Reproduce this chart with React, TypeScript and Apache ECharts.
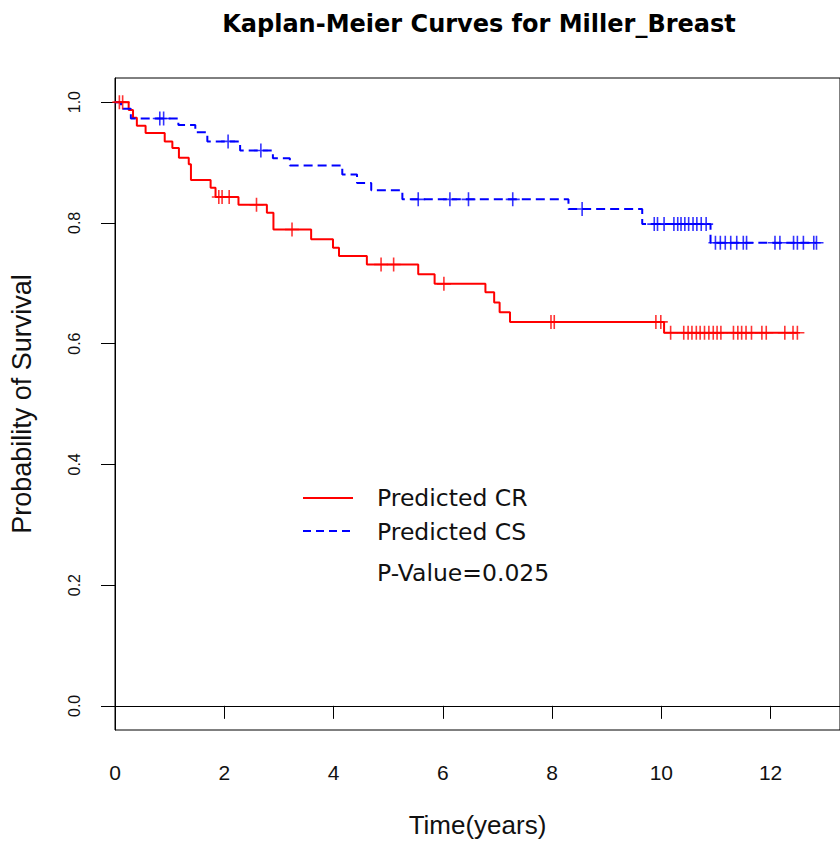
import React, { useEffect, useRef } from 'react';
import * as echarts from 'echarts';

// ---- data ----
const chartTitle = 'Kaplan-Meier Curves for Miller_Breast';
const xTitle = 'Time(years)';
const yTitle = 'Probability of Survival';
const xTicks = [0, 2, 4, 6, 8, 10, 12];
const yTicks = [0, 0.2, 0.4, 0.6, 0.8, 1.0];
const legendLabels = ['Predicted CR', 'Predicted CS'];
const pValueText = 'P-Value=0.025';

// Predicted CR (red, solid): event times and survival after each step
const redTime = [0, 0.25, 0.33, 0.40, 0.56, 0.91, 1.05, 1.17, 1.35, 1.39, 1.75, 1.84, 2.26, 2.78, 2.90, 3.59, 3.99, 4.10, 4.61, 5.55, 5.85, 6.78, 6.94, 7.04, 7.23, 10.05, 12.49];
const redSurv = [1.0, 0.987, 0.974, 0.961, 0.949, 0.935, 0.924, 0.908, 0.897, 0.871, 0.858, 0.843, 0.830, 0.817, 0.789, 0.773, 0.759, 0.745, 0.731, 0.715, 0.699, 0.685, 0.668, 0.652, 0.636, 0.618, 0.618];
const redCensor = [0.08, 0.14, 1.90, 1.96, 2.09, 2.59, 3.24, 4.87, 5.10, 6.02, 7.98, 8.04, 9.90, 9.99, 10.17, 10.41, 10.49, 10.56, 10.64, 10.71, 10.79, 10.87, 10.95, 11.02, 11.09, 11.32, 11.40, 11.47, 11.55, 11.65, 11.84, 11.92, 12.26, 12.41, 12.49];

// Predicted CS (blue, dashed)
const blueTime = [0, 0.11, 0.29, 1.16, 1.47, 1.69, 2.29, 2.89, 3.20, 4.16, 4.43, 4.69, 5.26, 8.30, 9.65, 10.90, 12.84];
const blueSurv = [1.0, 0.989, 0.973, 0.962, 0.950, 0.935, 0.920, 0.907, 0.895, 0.880, 0.866, 0.854, 0.839, 0.823, 0.798, 0.767, 0.767];
const blueCensor = [0.82, 0.89, 2.07, 2.67, 5.55, 6.13, 6.47, 7.28, 8.55, 9.87, 9.93, 10.05, 10.23, 10.30, 10.36, 10.43, 10.50, 10.58, 10.65, 10.73, 10.82, 10.99, 11.08, 11.17, 11.27, 11.38, 11.50, 11.56, 12.08, 12.17, 12.42, 12.49, 12.60, 12.79, 12.84];

const RED = '#FF0000';
const BLUE = '#0000FF';

function survAt(times: number[], surv: number[], t: number): number {
  let s = surv[0];
  for (let i = 0; i < times.length; i++) {
    if (times[i] <= t) s = surv[i];
  }
  return s;
}

const plus = 'path://M7,0 L7,14 M0,7 L14,7';

export default function App() {
  const ref = useRef<HTMLDivElement>(null);
  useEffect(() => {
    const chart = echarts.init(ref.current!, null, { renderer: 'svg' });
    const textCol = '#111';
    const sans = 'Liberation Sans, Arial, sans-serif';
    chart.setOption({
      animation: false,
      backgroundColor: '#ffffff',
      title: {
        text: chartTitle,
        left: 479,
        top: 12,
        padding: 0,
        textAlign: 'center',
        textStyle: { fontFamily: 'DejaVu Sans', fontWeight: 'bold', fontSize: 24, color: '#000' },
      },
      grid: {
        left: 114, top: 78, right: -4, bottom: 111,
        show: true, borderColor: '#000', borderWidth: 1, backgroundColor: 'transparent',
      },
      xAxis: {
        type: 'value', min: 0, max: 13.27,
        name: xTitle, nameLocation: 'middle', nameGap: 82,
        nameTextStyle: { fontFamily: sans, fontSize: 26, color: textCol },
        axisLine: { show: true, lineStyle: { color: '#000', width: 1 } },
        axisTick: { show: true, inside: false, length: 13, customValues: xTicks, lineStyle: { color: '#000', width: 1 } },
        axisLabel: {
          customValues: xTicks, margin: 32,
          fontFamily: sans, fontSize: 21, color: textCol,
        },
        splitLine: { show: false },
      },
      yAxis: {
        type: 'value', min: -0.04, max: 1.04,
        name: yTitle, nameLocation: 'middle', nameGap: 80, nameRotate: 90,
        nameTextStyle: { fontFamily: sans, fontSize: 27, color: textCol },
        axisLine: { show: true, lineStyle: { color: '#000', width: 1 } },
        axisTick: { show: true, inside: false, length: 14, customValues: yTicks, lineStyle: { color: '#000', width: 1 } },
        axisLabel: {
          customValues: yTicks, rotate: 90, margin: 33,
          formatter: (v: number) => v.toFixed(1),
          fontFamily: sans, fontSize: 16, color: textCol,
        },
        splitLine: { show: false },
      },
      series: [
        {
          name: legendLabels[0], type: 'line', step: 'end', showSymbol: false, symbol: 'none',
          data: redTime.map((t, i) => [t, redSurv[i]]),
          lineStyle: { color: RED, width: 2 }, z: 2,
        },
        {
          name: legendLabels[1], type: 'line', step: 'end', showSymbol: false, symbol: 'none',
          data: blueTime.map((t, i) => [t, blueSurv[i]]),
          lineStyle: { color: BLUE, width: 2, type: [9, 5] }, z: 2,
        },
        {
          type: 'scatter', symbol: plus, symbolSize: 14,
          data: redCensor.map((t) => [t, survAt(redTime, redSurv, t)]),
          itemStyle: { color: 'none', borderColor: RED, borderWidth: 1.6 }, z: 3,
        },
        {
          type: 'scatter', symbol: plus, symbolSize: 14,
          data: blueCensor.map((t) => [t, survAt(blueTime, blueSurv, t)]),
          itemStyle: { color: 'none', borderColor: BLUE, borderWidth: 1.6 }, z: 3,
        },
      ],
      graphic: [
        { type: 'line', shape: { x1: 303, y1: 498, x2: 353, y2: 498 }, style: { stroke: RED, lineWidth: 2 } },
        { type: 'line', shape: { x1: 303, y1: 531, x2: 353, y2: 531 }, style: { stroke: BLUE, lineWidth: 2, lineDash: [8, 5] } },
        { type: 'text', x: 377, y: 498, style: { text: legendLabels[0], fontFamily: 'DejaVu Sans', fontSize: 23.5, fill: textCol, verticalAlign: 'middle', align: 'left' } },
        { type: 'text', x: 377, y: 532, style: { text: legendLabels[1], fontFamily: 'DejaVu Sans', fontSize: 23.5, fill: textCol, verticalAlign: 'middle', align: 'left' } },
        { type: 'text', x: 377, y: 573, style: { text: pValueText, fontFamily: 'DejaVu Sans', fontSize: 23.5, fill: textCol, verticalAlign: 'middle', align: 'left' } },
      ],
    });
    return () => chart.dispose();
  }, []);
  return (
    <div
      ref={ref}
      style={{ position: 'absolute', left: 0, top: 0, width: 840, height: 843, background: '#fff' }}
    />
  );
}
